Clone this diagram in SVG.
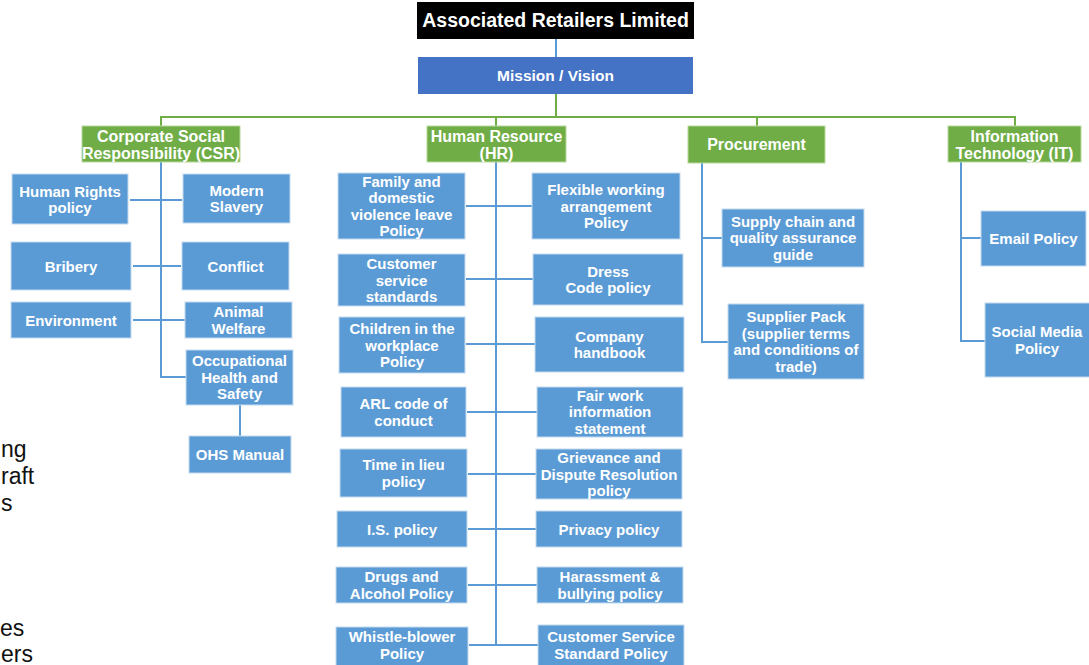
<svg xmlns="http://www.w3.org/2000/svg" width="1089" height="665" viewBox="0 0 1089 665">
<style>
.box{fill:#5B9BD5;stroke:#c3daf0;stroke-width:1}
.grn{fill:#70AD47;stroke:#b5d99c;stroke-width:1}
.t{font-family:"Liberation Sans",Arial,sans-serif;font-weight:bold;fill:#fff;text-anchor:middle;font-size:15px}
.t2{font-size:16px}
.cb{stroke:#5B9BD5;stroke-width:2;fill:none}
.cg{stroke:#70AD47;stroke-width:2;fill:none}
.bg{font-family:"Liberation Sans",Arial,sans-serif;font-size:23px;fill:#111}
</style>
<rect width="1089" height="665" fill="#fff"/>
<g id="background-text">
<text class="bg" x="1" y="457">ng</text>
<text class="bg" x="1" y="484">raft</text>
<text class="bg" x="1" y="511">s</text>
<text class="bg" x="0" y="636">es</text>
<text class="bg" x="1" y="662">ers</text>
</g>
<g id="connectors">
<path class="cb" d="M556,39V57"/>
<path class="cg" d="M556,94V117M161,117H1015M161,116V126M496,116V126M757,116V126M1015,116V126"/>
<path class="cb" d="M161,162V377H186M130,200H182M133,266H181M133,320H185M240,405V436"/>
<path class="cb" d="M496,162V645M466,206H532M466,279H533M466,344H535M467,412H537M468,474H536M468,529H536M468,585H537M469,645H538"/>
<path class="cb" d="M702,163V342H728M702,238H722"/>
<path class="cb" d="M961,162V341H985M961,238H981"/>
</g>
<g id="n-title"><rect x="417" y="2" width="277" height="37" fill="#000"/><text class="t" x="555.5" y="27" style="font-size:19.5px">Associated Retailers Limited</text></g>
<g id="n-mission"><rect x="418" y="57" width="275" height="37" fill="#4472C4"/><text class="t" x="555.5" y="81" style="font-size:15.5px">Mission / Vision</text></g>
<g id="n-csr"><rect class="grn" x="82" y="126" width="158" height="36"/><text class="t t2" x="161" y="142">Corporate Social</text><text class="t t2" x="161" y="159">Responsibility (CSR)</text></g>
<g id="n-hr"><rect class="grn" x="427" y="126" width="139" height="36"/><text class="t t2" x="496.5" y="142">Human Resource</text><text class="t t2" x="496.5" y="159">(HR)</text></g>
<g id="n-proc"><rect class="grn" x="688" y="126" width="137" height="37"/><text class="t t2" x="756.5" y="150">Procurement</text></g>
<g id="n-it"><rect class="grn" x="948" y="126" width="133" height="36"/><text class="t t2" x="1014.5" y="142">Information</text><text class="t t2" x="1014.5" y="159">Technology (IT)</text></g>

<g id="n-humanrights"><rect class="box" x="12" y="174" width="116" height="50"/><text class="t" x="70" y="196.5">Human Rights</text><text class="t" x="70" y="213">policy</text></g>
<g id="n-slavery"><rect class="box" x="183" y="174" width="107" height="49"/><text class="t" x="236.5" y="195.5">Modern</text><text class="t" x="236.5" y="212">Slavery</text></g>
<g id="n-bribery"><rect class="box" x="11" y="242" width="120" height="48"/><text class="t" x="71" y="271.5">Bribery</text></g>
<g id="n-conflict"><rect class="box" x="182" y="242" width="107" height="48"/><text class="t" x="235.5" y="271.5">Conflict</text></g>
<g id="n-environment"><rect class="box" x="11" y="302" width="120" height="36"/><text class="t" x="71" y="325.5">Environment</text></g>
<g id="n-animal"><rect class="box" x="185" y="302" width="107" height="36"/><text class="t" x="238.5" y="317">Animal</text><text class="t" x="238.5" y="333.5">Welfare</text></g>
<g id="n-ohs"><rect class="box" x="186" y="350" width="107" height="55"/><text class="t" x="239.5" y="366">Occupational</text><text class="t" x="239.5" y="382.5">Health and</text><text class="t" x="239.5" y="399">Safety</text></g>
<g id="n-ohsmanual"><rect class="box" x="189" y="436" width="102" height="37"/><text class="t" x="240" y="460">OHS Manual</text></g>

<g id="n-family"><rect class="box" x="338" y="173" width="127" height="66"/><text class="t" x="401.5" y="186.5">Family and</text><text class="t" x="401.5" y="203">domestic</text><text class="t" x="401.5" y="219.5">violence leave</text><text class="t" x="401.5" y="236">Policy</text></g>
<g id="n-flexible"><rect class="box" x="532" y="173" width="148" height="66"/><text class="t" x="606" y="195">Flexible working</text><text class="t" x="606" y="211.5">arrangement</text><text class="t" x="606" y="228">Policy</text></g>
<g id="n-custserv"><rect class="box" x="338" y="254" width="127" height="52"/><text class="t" x="401.5" y="269">Customer</text><text class="t" x="401.5" y="285.5">service</text><text class="t" x="401.5" y="302">standards</text></g>
<g id="n-dress"><rect class="box" x="533" y="254" width="150" height="51"/><text class="t" x="608" y="276.5">Dress</text><text class="t" x="608" y="293">Code policy</text></g>
<g id="n-children"><rect class="box" x="339" y="317" width="126" height="56"/><text class="t" x="402" y="334">Children in the</text><text class="t" x="402" y="350.5">workplace</text><text class="t" x="402" y="367">Policy</text></g>
<g id="n-handbook"><rect class="box" x="535" y="317" width="149" height="55"/><text class="t" x="609.5" y="341.5">Company</text><text class="t" x="609.5" y="358">handbook</text></g>
<g id="n-arl"><rect class="box" x="341" y="387" width="125" height="50"/><text class="t" x="403.5" y="409">ARL code of</text><text class="t" x="403.5" y="425.5">conduct</text></g>
<g id="n-fairwork"><rect class="box" x="537" y="387" width="146" height="50"/><text class="t" x="610" y="400.5">Fair work</text><text class="t" x="610" y="417">information</text><text class="t" x="610" y="433.5">statement</text></g>
<g id="n-toil"><rect class="box" x="340" y="449" width="127" height="48"/><text class="t" x="403.5" y="470">Time in lieu</text><text class="t" x="403.5" y="486.5">policy</text></g>
<g id="n-grievance"><rect class="box" x="536" y="449" width="146" height="50"/><text class="t" x="609" y="463">Grievance and</text><text class="t" x="609" y="479.5">Dispute Resolution</text><text class="t" x="609" y="496">policy</text></g>
<g id="n-is"><rect class="box" x="337" y="511" width="130" height="36"/><text class="t" x="402" y="534.5">I.S. policy</text></g>
<g id="n-privacy"><rect class="box" x="536" y="511" width="146" height="36"/><text class="t" x="609" y="534.5">Privacy policy</text></g>
<g id="n-drugs"><rect class="box" x="336" y="567" width="131" height="36"/><text class="t" x="401.5" y="582">Drugs and</text><text class="t" x="401.5" y="598.5">Alcohol Policy</text></g>
<g id="n-harass"><rect class="box" x="537" y="567" width="146" height="36"/><text class="t" x="610" y="582">Harassment &amp;</text><text class="t" x="610" y="598.5">bullying policy</text></g>
<g id="n-whistle"><rect class="box" x="336" y="627" width="132" height="42"/><text class="t" x="402" y="642">Whistle-blower</text><text class="t" x="402" y="659">Policy</text></g>
<g id="n-csstd"><rect class="box" x="538" y="625" width="146" height="44"/><text class="t" x="611" y="642">Customer Service</text><text class="t" x="611" y="659">Standard Policy</text></g>

<g id="n-supply"><rect class="box" x="722" y="209" width="142" height="58"/><text class="t" x="793" y="226.5">Supply chain and</text><text class="t" x="793" y="243">quality assurance</text><text class="t" x="793" y="259.5">guide</text></g>
<g id="n-supplier"><rect class="box" x="728" y="304" width="136" height="75"/><text class="t" x="796" y="322">Supplier Pack</text><text class="t" x="796" y="338.5">(supplier terms</text><text class="t" x="796" y="355">and conditions of</text><text class="t" x="796" y="371.5">trade)</text></g>

<g id="n-email"><rect class="box" x="981" y="211" width="105" height="55"/><text class="t" x="1033.5" y="243.5">Email Policy</text></g>
<g id="n-social"><rect class="box" x="985" y="303" width="106" height="74"/><text class="t" x="1037" y="337">Social Media</text><text class="t" x="1037" y="353.5">Policy</text></g>
</svg>
